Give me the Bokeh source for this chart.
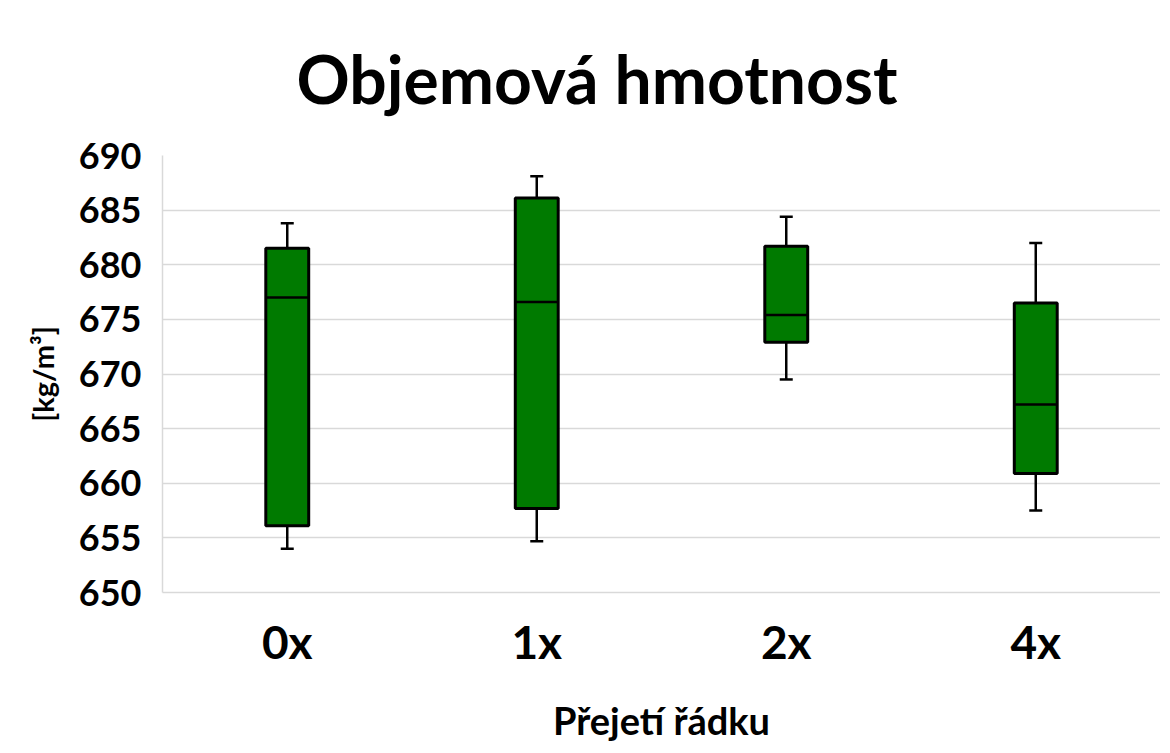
from bokeh.plotting import figure
from bokeh.models import Range1d, FactorRange, FixedTicker, ColumnDataSource
from bokeh.embed import file_html
from bokeh.resources import INLINE

categories = ["0x", "1x", "2x", "4x"]
whisker_low = [654.0, 654.7, 669.5, 657.5]
q1 = [656.1, 657.7, 672.9, 660.9]
median = [677.0, 676.6, 675.4, 667.2]
q3 = [681.5, 686.1, 681.7, 676.5]
whisker_high = [683.8, 688.1, 684.4, 682.0]
y_ticks = [650, 655, 660, 665, 670, 675, 680, 685, 690]
title_text = "Objemová hmotnost"
x_label = "Přejetí řádku"
y_label = "[kg/m³]"

src = ColumnDataSource(dict(cat=categories, lo=whisker_low, q1=q1, med=median,
                            q3=q3, hi=whisker_high))

p = figure(width=1160, height=745, x_range=FactorRange(*categories),
           y_range=Range1d(650, 690), output_backend="svg", toolbar_location=None,
           min_border_left=162, min_border_right=0, min_border_top=155,
           min_border_bottom=152)

FONT = "Lato"
GRID = "#d9d9d9"
GREEN = "#007a00"

p.segment(x0="cat", y0="q3", x1="cat", y1="hi", source=src, line_color="black", line_width=2.5)
p.segment(x0="cat", y0="lo", x1="cat", y1="q1", source=src, line_color="black", line_width=2.5)
p.vbar(x="cat", width=0.172, bottom="q1", top="q3", source=src,
       fill_color=GREEN, line_color="black", line_width=3)
p.scatter(x="cat", y="med", marker="dash", size=43, source=src, line_color="black", line_width=2.5)
p.scatter(x="cat", y="hi", marker="dash", size=13, source=src, line_color="black", line_width=2.5)
p.scatter(x="cat", y="lo", marker="dash", size=13, source=src, line_color="black", line_width=2.5)

p.outline_line_color = None
p.background_fill_color = "white"
p.border_fill_color = "white"

p.xgrid.grid_line_color = None
p.ygrid.grid_line_color = GRID
p.ygrid.grid_line_width = 1.5
p.yaxis.ticker = FixedTicker(ticks=y_ticks)
p.ygrid.ticker = FixedTicker(ticks=y_ticks)

for ax in (p.xaxis[0], p.yaxis[0]):
    ax.axis_line_color = GRID
    ax.axis_line_width = 1.5
    ax.major_tick_line_color = None
    ax.minor_tick_line_color = None
    ax.major_label_text_font = FONT
    ax.major_label_text_font_style = "bold"
    ax.major_label_text_color = "black"
    ax.axis_label_text_font = FONT
    ax.axis_label_text_font_style = "bold"
    ax.axis_label_text_color = "black"

p.xaxis.major_label_text_font_size = "46px"
p.xaxis.major_label_standoff = 15
p.xaxis.axis_label = x_label
p.xaxis.axis_label_text_font_size = "38px"
p.xaxis.axis_label_standoff = 25

p.yaxis.major_label_text_font_size = "36px"
p.yaxis.major_label_standoff = 15
p.yaxis.axis_label = y_label
p.yaxis.axis_label_text_font_size = "29px"
p.yaxis.axis_label_standoff = 16

p.title.text = title_text
p.title.text_font = FONT
p.title.text_font_style = "bold"
p.title.text_font_size = "66px"
p.title.text_color = "black"
p.title.align = "left"
p.title.offset = 134
p.title.vertical_align = "top"
p.title.standoff = 72

open("out.html", "w").write(file_html(p, INLINE))
